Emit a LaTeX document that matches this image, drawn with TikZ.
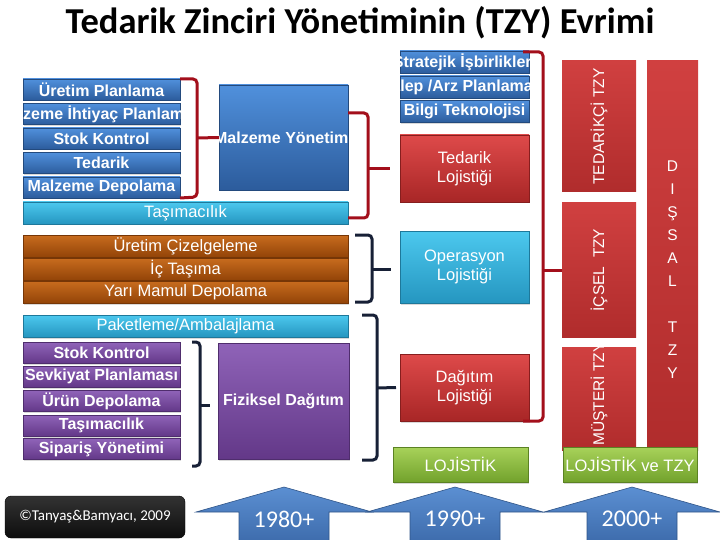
\documentclass[tikz,border=0pt]{standalone}
\usepackage{fontspec}
\setmainfont{Liberation Sans}
\newfontfamily\calibri{Carlito}
\usetikzlibrary{shadows,calc}
\definecolor{bTop}{HTML}{5090DC}
\definecolor{bBot}{HTML}{2C5C9C}
\definecolor{rTop}{HTML}{DE4A4A}
\definecolor{rBot}{HTML}{A82626}
\definecolor{cTop}{HTML}{4CC8EE}
\definecolor{cBot}{HTML}{2596C0}
\definecolor{brTop}{HTML}{C86C1E}
\definecolor{brBot}{HTML}{934408}
\definecolor{pTop}{HTML}{8F63B8}
\definecolor{pBot}{HTML}{633888}
\definecolor{gTop}{HTML}{A8D25A}
\definecolor{gBot}{HTML}{72A22C}
\definecolor{colTop}{HTML}{D04040}
\definecolor{colBot}{HTML}{B02C2C}
\definecolor{brRed}{HTML}{A30F1B}
\definecolor{navy}{HTML}{172036}
\definecolor{aTop}{HTML}{5B8FD2}
\definecolor{aBot}{HTML}{3C6AAA}
\tikzset{
  box/.style={inner sep=0pt, outer sep=0pt, text=white, align=center,
    line width=0.5pt, drop shadow={shadow xshift=1pt, shadow yshift=-1.5pt, opacity=0.3}},
  bluebox/.style={box, top color=bTop, bottom color=bBot, draw=bBot!80!black,
    font=\bfseries\fontsize{16}{18}\selectfont},
  redbox/.style={box, top color=rTop, bottom color=rBot, draw=rBot!80!black,
    font=\fontsize{16.5}{19}\selectfont},
  cyanbox/.style={box, top color=cTop, bottom color=cBot, draw=cBot!80!black,
    font=\fontsize{16.5}{19}\selectfont},
  brownbox/.style={box, top color=brTop, bottom color=brBot, draw=brBot!80!black,
    font=\fontsize{16.5}{19}\selectfont},
  purplebox/.style={box, top color=pTop, bottom color=pBot, draw=pBot!80!black,
    font=\bfseries\fontsize{16}{18}\selectfont},
  greenbox/.style={box, top color=gTop, bottom color=gBot, draw=gBot!80!black,
    font=\fontsize{16.5}{19}\selectfont},
  colbox/.style={inner sep=0pt, outer sep=0pt, top color=colTop, bottom color=colBot},
  coltext/.style={text=white, inner sep=0pt, font=\fontsize{15.5}{18}\selectfont},
  lefts/.style={minimum width=157pt, minimum height=21pt},
  wides/.style={minimum width=325pt, minimum height=22pt},
  rights/.style={minimum width=129pt},
  redbr/.style={draw=brRed, line width=3pt, rounded corners=4pt},
  navybr/.style={draw=navy, line width=3pt, rounded corners=4pt},
  yrarrow/.style={top color=aTop, bottom color=aBot, draw=aBot!80!black, line width=0.6pt},
  yeartext/.style={text=white, font=\calibri\fontsize{24}{26}\selectfont}
}
\begin{document}
\begin{tikzpicture}[x=1pt, y=-1pt]
\useasboundingbox (0,0) rectangle (720,540);

% title
\node[font=\calibri\bfseries\fontsize{36.5}{40}\selectfont] (title) at (360,23) {Tedarik Zinciri Yönetiminin (TZY) Evrimi};

% red columns
\node[colbox, minimum width=74pt, minimum height=131pt] (ted) at (599,126.5) {};
\node[coltext, rotate=90] (tedT) at (ted.center) {TEDARİKÇİ TZY};
\node[colbox, minimum width=74pt, minimum height=134pt] (ics) at (599,270) {};
\node[coltext, rotate=90] (icsT) at (ics.center) {İÇSEL\ \ TZY};
\node[colbox, minimum width=74pt, minimum height=103pt] (mus) at (599,398.5) {};
\begin{scope}
  \clip (mus.south west) rectangle (mus.north east);
  \node[coltext, rotate=90] (musT) at (599,394) {MÜŞTERİ TZY};
\end{scope}
\node[colbox, minimum width=51pt, minimum height=389pt] (dis) at (672.5,255.5) {};
\node[coltext, align=center, font=\fontsize{15.5}{23}\selectfont] (disT) at (672.5,270) {D\\I\\Ş\\S\\A\\L\\[23pt]T\\Z\\Y};

% left blue boxes
\node[bluebox, lefts] (up) at (101.5,89.5) {Üretim Planlama};
\node[bluebox, lefts] (mip) at (101.5,114) {};
\begin{scope}
  \clip (mip.south west) rectangle (mip.north east);
  \node[text=white, font=\bfseries\fontsize{16}{18}\selectfont] (mipT) at (mip.center) {Malzeme İhtiyaç Planlaması};
\end{scope}
\node[bluebox, lefts] (stok) at (101.5,138.5) {Stok Kontrol};
\node[bluebox, lefts] (tedk) at (101.5,163) {Tedarik};
\node[bluebox, lefts] (dep) at (101.5,187.5) {Malzeme Depolama};

\node[bluebox, minimum width=129pt, minimum height=105pt] (my) at (283.5,137.5) {};
\begin{scope}
  \clip (my.south west) rectangle (my.north east);
  \node[text=white, font=\bfseries\fontsize{16}{18}\selectfont] (myT) at (my.center) {Malzeme Yönetimi};
\end{scope}

% wide bars
\node[cyanbox, wides] (tas) at (185.5,213) {Taşımacılık};
\node[brownbox, wides] (uc) at (185.5,246) {Üretim Çizelgeleme};
\node[brownbox, wides] (ict) at (185.5,269) {İç Taşıma};
\node[brownbox, wides] (ymd) at (185.5,292) {Yarı Mamul Depolama};
\node[cyanbox, wides] (pak) at (185.5,326) {Paketleme/Ambalajlama};

% purple
\node[purplebox, lefts] (sk) at (101.5,353) {Stok Kontrol};
\node[purplebox, lefts] (sp) at (101.5,376.5) {Sevkiyat Planlaması};
\node[purplebox, lefts] (ud) at (101.5,401) {Ürün Depolama};
\node[purplebox, lefts] (tsm) at (101.5,425.5) {Taşımacılık};
\node[purplebox, lefts] (sy) at (101.5,449) {Sipariş Yönetimi};
\node[purplebox, minimum width=131pt, minimum height=116pt] (fiz) at (283.5,401) {Fiziksel Dağıtım};

% top right blue
\node[bluebox, rights, minimum height=22pt] (str) at (464.5,62) {};
\begin{scope}
  \clip (str.south west) rectangle (str.north east);
  \node[text=white, font=\bfseries\fontsize{16}{18}\selectfont] (strT) at (str.center) {Stratejik İşbirlikleri};
\end{scope}
\node[bluebox, rights, minimum height=22pt] (tap) at (464.5,87) {};
\begin{scope}
  \clip (tap.south west) rectangle (tap.north east);
  \node[text=white, font=\bfseries\fontsize{16}{18}\selectfont] (tapT) at (tap.center) {Talep /Arz Planlaması};
\end{scope}
\node[bluebox, rights, minimum height=22pt] (bt) at (464.5,111.5) {Bilgi Teknolojisi};

% logistics boxes
\node[redbox, rights, minimum height=67pt] (tl) at (464.5,168.5) {Tedarik\\Lojistiği};
\node[cyanbox, rights, minimum height=72pt] (ol) at (464.5,267) {Operasyon\\Lojistiği};
\node[redbox, rights, minimum height=67pt] (dl) at (464.5,387.5) {Dağıtım\\Lojistiği};
\node[greenbox, minimum width=135pt, minimum height=35pt] (loj) at (460.5,464.5) {LOJİSTİK};
\node[greenbox, minimum width=134pt, minimum height=35pt] (lojt) at (630,464.5) {LOJİSTİK ve TZY};

% brackets
\draw[redbr] (up.north east) -- (197,79) -- (197,197) -- (dep.south east);
\draw[redbr, rounded corners=0pt] (197,138) -- (my.west);
\draw[redbr] (348,113) -- (368,113) -- (368,218) -- (tas.east |- 0,218);
\draw[redbr, rounded corners=0pt] (368,168.5) -- ($(tl.west)+(-10,0)$);
\draw[redbr] (523,52) -- (543,52) -- (543,421) -- (523,421);
\draw[redbr, rounded corners=0pt] (543,270) -- (ics.west);

\draw[navybr] (355,235) -- (372,235) -- (372,302) -- (355,302);
\draw[navybr, rounded corners=0pt] (372,269) -- ($(ol.west)+(-9,2)$);
\draw[navybr] (362,315) -- (377,315) -- (377,460) -- (362,460);
\draw[navybr, rounded corners=0pt] (377,388) -- ($(dl.west)+(-4,0)$);
\draw[navybr] (192,342) -- (200,342) -- (200,466) -- (192,466);
\draw[navybr, rounded corners=0pt] (200,405) -- ($(fiz.west)+(-8,4)$);

% bottom arrows
\foreach \cx/\lab/\nm in {284/1980+/a1, 455/1990+/a2, 632/2000+/a3}{
  \draw[yrarrow] (\cx,487) -- (\cx+88,512) -- (\cx+45,512) -- (\cx+45,545)
     -- (\cx-45,545) -- (\cx-45,512) -- (\cx-88,512) -- cycle;
  \node[yeartext] (\nm) at (\cx,519) {\lab};
}

% copyright
\node[rounded corners=6pt, top color=black!80, bottom color=black!95, draw=black,
  minimum width=180pt, minimum height=42pt, inner sep=0pt, text=white,
  font=\calibri\fontsize{15}{17}\selectfont] (copy) at (95,517) {©Tanyaş\&Bamyacı, 2009};
\end{tikzpicture}
\end{document}
